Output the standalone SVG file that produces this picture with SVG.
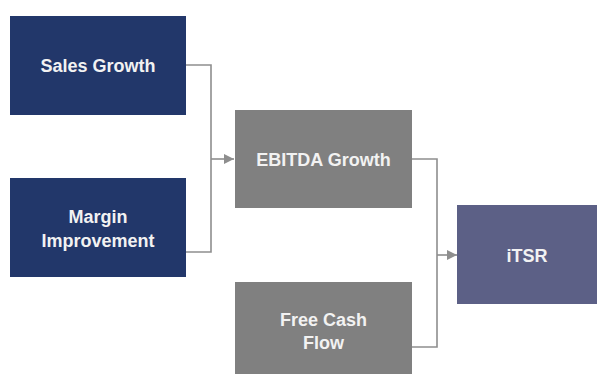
<svg xmlns="http://www.w3.org/2000/svg" width="597" height="374" viewBox="0 0 597 374">
<style>
.navy{fill:#22376a}
.grey{fill:#808080}
.tsr{fill:#5c6086}
.lbl{font-family:"Liberation Sans",Arial,sans-serif;font-size:18px;font-weight:bold;fill:#f2f2f2;text-anchor:middle}
.conn{fill:none;stroke:#8e8e8e;stroke-width:1.6}
</style>
<defs>
<marker id="arr" viewBox="0 0 10 10" refX="10" refY="5" markerWidth="11" markerHeight="10" markerUnits="userSpaceOnUse" orient="auto">
<path d="M0,0 L10,5 L0,10 Z" fill="#8e8e8e"/>
</marker>
</defs>
<rect width="597" height="374" fill="#ffffff"/>
<g id="connectors">
<path class="conn" d="M186,65 H211 V252 H186"/>
<path class="conn" d="M211,159 H234" marker-end="url(#arr)"/>
<path class="conn" d="M412,159 H437 V347 H412"/>
<path class="conn" d="M437,255 H457" marker-end="url(#arr)"/>
</g>
<g id="sales-growth">
<rect class="navy" x="10" y="16" width="176" height="99"/>
<text class="lbl" x="98" y="72">Sales Growth</text>
</g>
<g id="margin-improvement">
<rect class="navy" x="10" y="178" width="176" height="99"/>
<text class="lbl" x="98" y="222.5">Margin</text>
<text class="lbl" x="98" y="246.5">Improvement</text>
</g>
<g id="ebitda-growth">
<rect class="grey" x="235" y="110" width="177" height="98"/>
<text class="lbl" x="323.5" y="166">EBITDA Growth</text>
</g>
<g id="free-cash-flow">
<rect class="grey" x="235" y="282" width="177" height="92"/>
<text class="lbl" x="323.5" y="326">Free Cash</text>
<text class="lbl" x="323.5" y="349">Flow</text>
</g>
<g id="itsr">
<rect class="tsr" x="457" y="205" width="140" height="99"/>
<text class="lbl" x="527" y="262">iTSR</text>
</g>
</svg>
